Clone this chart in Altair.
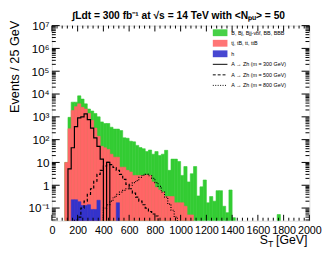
import altair as alt
import pandas as pd

W, H = 264, 200
Y_MIN, Y_MAX = 0.028, 1e7
BIN = 25
TINY = 1e-4

x_ticks = list(range(0, 2001, 200))
y_ticks = [0.1, 1, 10, 1e2, 1e3, 1e4, 1e5, 1e6, 1e7]
y_tick_labels = ["10⁻¹", "1", "10", "10²", "10³", "10⁴", "10⁵", "10⁶", "10⁷"]

# drawn (stacked) heights, events / 25 GeV, first bin index given separately
bkg_all_start = 4   # green: B, Bj, ... stacked on top of tt and h
bkg_all = [10, 950, 4400, 4400, 8300, 6000, 3700, 2200, 1800, 1400, 1000, 600, 510, 510,
           350, 290, 290, 250, 120, 115, 85, 80, 56, 45, 40, 30, 35, 23, 30, 20, 23, 34,
           4.5, 14, 14, 11, 2.7, 6.6, 1.4, 3.2, 6.6, 0.34, 0.85, 1.7, 0.17, 0.32, 0.2,
           0.58, 0.58, 0.12, 0.063, 0.62, 0.038, 0, 0, 0, 0, 0, 0, 0, 0, 0, 0, 0, 0, 0, 0.052]
top_h_start = 4     # red: tj, tB, tt, ttB stacked on h
top_h = [10, 300, 1900, 2800, 3700, 2600, 2200, 1400, 700, 320, 140, 51, 44, 37, 23, 17, 17,
         6.2, 6.2, 4.5, 3.8, 2.7, 2.7, 2.7, 2.7, 2.8, 2.7, 1.4, 0.8, 0.62, 0.5, 0.32, 0.32,
         0.32, 0.17, 0.17, 0.17, 0.12, 0.05, 0.05]
higgs_start = 6     # blue: h
higgs = [0.23, 0.23, 0.19, 0.13, 0.13, 0.14, 0.087, 0.087, 0.22, 0, 0, 0, 0, 0, 0.17]

sig300_start = 5
sig300 = [5.2, 44, 370, 900, 1000, 1350, 750, 320, 120, 51, 14, 0, 10]
sig500_start = 7
sig500 = [0.03, 0.04, 0.1, 0.2, 0.4, 0.7, 1.5, 3.0, 4.5, 7, 10, 8, 6, 4.5, 3, 1.8, 1.1, 0.7,
          0.45, 0.3, 0.2, 0.14, 0.1, 0.07, 0.055, 0.045]
sig800_start = 16
sig800 = [0.1, 0.14, 0.2, 0.3, 0.4, 0.5, 0.6, 0.7, 1.0, 1.3, 1.6, 2.2, 2.8, 3.0, 2.6, 2.0,
          1.3, 0.9, 0.5, 0.3, 0.15, 0.08, 0.04]

legend_labels = ["B, Bj, Bjj-vbf, BB, BBB", "tj, tB, tt, ttB", "h",
                 "A → Zh (m = 300 GeV)", "A → Zh (m = 500 GeV)", "A → Zh (m = 800 GeV)"]

GREEN, RED, BLUE = "#33cc33", "#ff6666", "#3333cc"
FONT = "Liberation Sans"


def bin_rows(start, values):
    rows = [((start + k) * BIN, (start + k + 1) * BIN, v)
            for k, v in enumerate(values) if v > 0]
    return pd.DataFrame({"x": [r[0] for r in rows], "x2": [r[1] for r in rows],
                         "y": [r[2] for r in rows]})


def step_rows(start, values):
    rows = [(start * BIN, TINY)]
    for k, v in enumerate(values):
        rows.append(((start + k) * BIN, v if v > 0 else TINY))
    end = (start + len(values)) * BIN
    rows.append((end, values[-1] if values[-1] > 0 else TINY))
    rows.append((end, TINY))
    return pd.DataFrame({"x": [r[0] for r in rows], "y": [r[1] for r in rows],
                         "o": list(range(len(rows)))})


label_expr = ""
for v, lab in zip(y_ticks, y_tick_labels):
    label_expr += f"datum.value < {v * 3} ? '{lab}' : "
label_expr += "''"

xscale = alt.Scale(domain=[0, 2000], nice=False, zero=False)
yscale = alt.Scale(type="log", domain=[Y_MIN, Y_MAX], nice=False)
xaxis = alt.Axis(values=x_ticks, ticks=False, domain=False, grid=False, labelFontSize=11,
                 labelFont=FONT, labelColor="black", labelPadding=4, labelOverlap=False,
                 labelFlush=False, title=None, format="d")
yaxis = alt.Axis(values=y_ticks, ticks=False, domain=False, grid=False, labelFontSize=12,
                 labelFont=FONT, labelColor="black", labelPadding=3, labelExpr=label_expr,
                 title=None)
X = alt.X("x:Q", scale=xscale, axis=xaxis)
Y = alt.Y("y:Q", scale=yscale, axis=yaxis)


def fill(start, values, color):
    return alt.Chart(bin_rows(start, values)).mark_rect(
        clip=True, color=color, stroke=color, strokeWidth=0.6
    ).encode(x=X, x2="x2:Q", y=Y, y2=alt.value(H))


def line(start, values, dash):
    m = dict(interpolate="step-after", clip=True, color="black", strokeWidth=1.2)
    if dash:
        m["strokeDash"] = dash
    return alt.Chart(step_rows(start, values)).mark_line(**m).encode(
        x=X, y=Y, order=alt.Order("o:Q"))


layers = [
    fill(bkg_all_start, bkg_all, GREEN),
    fill(top_h_start, top_h, RED),
    fill(higgs_start, higgs, BLUE),
    line(sig300_start, sig300, None),
    line(sig500_start, sig500, [3, 2]),
    line(sig800_start, sig800, [1, 1.5]),
]

# inward ticks (ROOT style) on all four sides
y_major = pd.DataFrame({"y": y_ticks})
y_minor = pd.DataFrame({"y": [m * 10 ** k for k in range(-2, 7) for m in range(2, 10)
                              if Y_MIN <= m * 10 ** k <= Y_MAX]})
x_major = pd.DataFrame({"x": x_ticks})
x_minor = pd.DataFrame({"x": [v for v in range(0, 2001, 40) if v % 200]})
for df, ln in ((y_major, 8), (y_minor, 4)):
    layers.append(alt.Chart(df).mark_rule(color="black", strokeWidth=1).encode(
        y=Y, x=alt.value(0), x2=alt.value(ln)))
    layers.append(alt.Chart(df).mark_rule(color="black", strokeWidth=1).encode(
        y=Y, x=alt.value(W - ln), x2=alt.value(W)))
for df, ln in ((x_major, 6), (x_minor, 3)):
    layers.append(alt.Chart(df).mark_rule(color="black", strokeWidth=1).encode(
        x=X, y=alt.value(H - ln), y2=alt.value(H)))
    layers.append(alt.Chart(df).mark_rule(color="black", strokeWidth=1).encode(
        x=X, y=alt.value(0), y2=alt.value(ln)))

one = pd.DataFrame({"a": [0]})


def txt(text, x, y, size, align="left", baseline="middle", angle=0, weight="normal"):
    kw = dict(align=align, baseline=baseline, fontSize=size, font=FONT, color="black",
              fontWeight=weight)
    if angle:
        kw["angle"] = angle
    return alt.Chart(one).mark_text(**kw).encode(
        x=alt.value(x), y=alt.value(y), text=alt.value(text))


# legend
kinds = [("fill", GREEN), ("fill", RED), ("fill", BLUE),
         ("line", None), ("line", [3, 2]), ("line", [1, 1.5])]
for i, (lab, (kind, style)) in enumerate(zip(legend_labels, kinds)):
    yc = 7.3 + 10.8 * i
    if kind == "fill":
        layers.append(alt.Chart(one).mark_rect(color=style, opacity=0.9).encode(
            x=alt.value(165), x2=alt.value(180), y=alt.value(yc - 3.5), y2=alt.value(yc + 3.5)))
    else:
        m = dict(color="black", strokeWidth=1)
        if style:
            m["strokeDash"] = style
        layers.append(alt.Chart(one).mark_rule(**m).encode(
            x=alt.value(165), x2=alt.value(180), y=alt.value(yc)))
    layers.append(txt(lab, 184, yc, 5.5))

# title and axis titles
layers.append(txt("∫Ldt = 300 fb⁻¹ at √s = 14 TeV with <Nₚᵤ> = 50", 130, -10, 10.5,
                  align="center", weight="bold"))
layers.append(txt("Events / 25 GeV", -38, -5, 13, align="right", angle=270))
layers.append(txt("[GeV]", 262, 224, 12.6, align="right", baseline="alphabetic"))
layers.append(txt("T", 227, 227, 9, align="right", baseline="alphabetic"))
layers.append(txt("S", 221.5, 224, 12.6, align="right", baseline="alphabetic"))

chart = alt.layer(*layers).properties(
    width=W, height=H,
    autosize=alt.AutoSizeParams(type="none"),
    padding={"left": 45, "top": 15, "right": 15, "bottom": 26},
).configure_view(stroke="black", strokeWidth=1).configure(background="white")

chart.save("out.html", embed_options={"renderer": "svg", "actions": False})
